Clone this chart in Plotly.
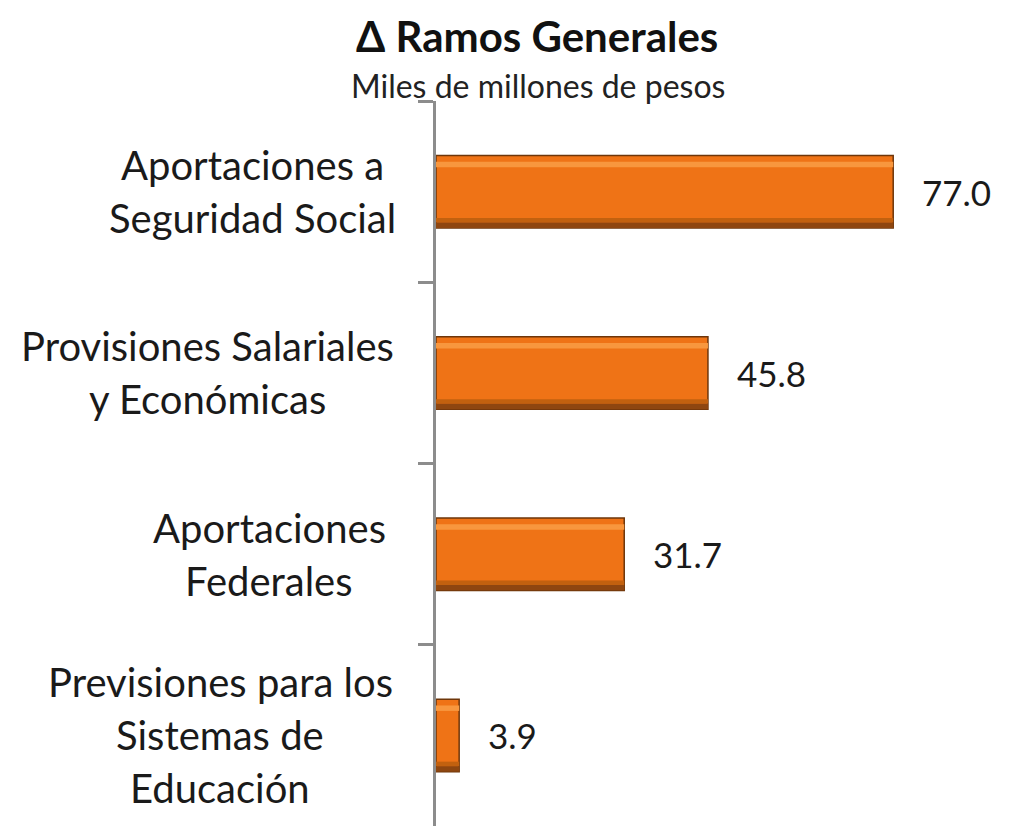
import plotly.graph_objects as go

categories = [
    ["Aportaciones a", "Seguridad Social"],
    ["Provisiones Salariales", "y Económicas"],
    ["Aportaciones", "Federales"],
    ["Previsiones para los", "Sistemas de", "Educación"],
]
values = [77.0, 45.8, 31.7, 3.9]
title_text = "Δ Ramos Generales"
subtitle_text = "Miles de millones de pesos"

cat_keys = [" ".join(c) for c in categories]

FONT = "Lato"
TXT = "#1a1a1a"
OFF = 8          # page body margin
L = 428          # left margin
W, H = 1001, 820
PLOT_W = W - L

def px_to_paper(page_x):
    return (page_x - OFF - L) / PLOT_W

fig = go.Figure()
# main bar
fig.add_trace(go.Bar(
    x=values, y=cat_keys, orientation="h", width=0.4, offset=-0.2,
    marker=dict(color="#EF7316", line=dict(color="#6e360a", width=1.5)),
    hoverinfo="skip",
))
# bevel: top highlight
fig.add_trace(go.Bar(
    x=values, y=cat_keys, orientation="h", width=0.03, offset=-0.165,
    marker=dict(color="#F8973E", line=dict(width=0)),
    hoverinfo="skip",
))
# bevel: bottom shade
fig.add_trace(go.Bar(
    x=values, y=cat_keys, orientation="h", width=0.025, offset=0.145,
    marker=dict(color="#C2610F", line=dict(width=0)),
    hoverinfo="skip",
))
fig.add_trace(go.Bar(
    x=values, y=cat_keys, orientation="h", width=0.03, offset=0.17,
    marker=dict(color="#8E4610", line=dict(width=0)),
    hoverinfo="skip",
))

annotations = []
LINE_H = 53
label_center_px = [252, 207, 269, 220]
for ci, (key, lines) in enumerate(zip(cat_keys, categories)):
    n = len(lines)
    for i, ln in enumerate(lines):
        off = ((n - 1) / 2 - i) * LINE_H
        annotations.append(dict(
            text=ln, x=px_to_paper(label_center_px[ci]), xref="paper", y=key, yref="y",
            xanchor="center", yanchor="middle", yshift=off,
            showarrow=False, font=dict(family=FONT, size=40, color=TXT),
        ))

for v, key in zip(values, cat_keys):
    annotations.append(dict(
        text=f"{v:.1f}", x=v, xref="x", y=key, yref="y",
        xanchor="left", yanchor="middle", xshift=27,
        showarrow=False, font=dict(family=FONT, size=35, color=TXT),
    ))

annotations.append(dict(
    text=f"<b>{title_text}</b>", x=px_to_paper(537), xref="paper",
    y=1, yref="paper", xanchor="center", yanchor="middle", yshift=65,
    showarrow=False, font=dict(family=FONT, size=42, color="#111"),
))
annotations.append(dict(
    text=subtitle_text, x=px_to_paper(538), xref="paper",
    y=1, yref="paper", xanchor="center", yanchor="middle", yshift=16,
    showarrow=False, font=dict(family=FONT, size=32, color="#222"),
))

fig.update_layout(
    width=W, height=H,
    margin=dict(l=L, r=0, t=93, b=2, pad=0),
    paper_bgcolor="white", plot_bgcolor="white",
    showlegend=False, barmode="overlay",
    font=dict(family=FONT, color=TXT),
    xaxis=dict(range=[0, 96.5], visible=False, fixedrange=True),
    yaxis=dict(
        categoryorder="array", categoryarray=cat_keys,
        autorange="reversed",
        showticklabels=False, tickson="boundaries",
        ticks="outside", ticklen=15, tickwidth=3, tickcolor="#8c8c8c",
        showline=True, linewidth=3, linecolor="#8c8c8c",
        showgrid=False, zeroline=False,
    ),
    annotations=annotations,
)

fig.write_html("out.html")
